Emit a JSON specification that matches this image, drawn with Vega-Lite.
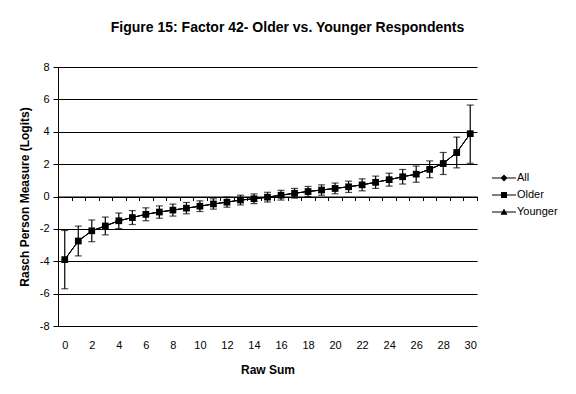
{
  "$schema": "https://vega.github.io/schema/vega-lite/v6.json",
  "autosize": "none",
  "width": 419,
  "height": 259,
  "padding": {"left": 58, "top": 67, "right": 99, "bottom": 68},
  "background": "white",
  "config": {
    "font": "Liberation Sans",
    "view": {"stroke": null},
    "axis": {"labelFont": "Liberation Sans", "titleFont": "Liberation Sans", "labelColor": "black", "titleColor": "black", "labelFontSize": 11, "titleFontSize": 12, "titleFontWeight": "bold"},
    "legend": {"labelFont": "Liberation Sans", "labelColor": "black", "labelFontSize": 11}
  },
  "title": {"text": "Figure 15: Factor 42- Older vs. Younger Respondents", "fontSize": 14, "fontWeight": "bold", "font": "Liberation Sans", "color": "black", "anchor": "middle", "dx": 20, "offset": 26},
  "datasets": {
    "measures": [
      {"raw": 0, "All": -3.9, "Older": -3.9, "Younger": -3.9, "lo": -5.7, "hi": -2.1},
      {"raw": 1, "All": -2.75, "Older": -2.75, "Younger": -2.75, "lo": -3.67, "hi": -1.83},
      {"raw": 2, "All": -2.12, "Older": -2.12, "Younger": -2.12, "lo": -2.79, "hi": -1.45},
      {"raw": 3, "All": -1.82, "Older": -1.82, "Younger": -1.82, "lo": -2.37, "hi": -1.27},
      {"raw": 4, "All": -1.5, "Older": -1.5, "Younger": -1.5, "lo": -1.98, "hi": -1.02},
      {"raw": 5, "All": -1.3, "Older": -1.3, "Younger": -1.3, "lo": -1.73, "hi": -0.87},
      {"raw": 6, "All": -1.1, "Older": -1.1, "Younger": -1.1, "lo": -1.5, "hi": -0.7},
      {"raw": 7, "All": -0.96, "Older": -0.96, "Younger": -0.96, "lo": -1.34, "hi": -0.58},
      {"raw": 8, "All": -0.84, "Older": -0.84, "Younger": -0.84, "lo": -1.21, "hi": -0.47},
      {"raw": 9, "All": -0.72, "Older": -0.72, "Younger": -0.72, "lo": -1.07, "hi": -0.37},
      {"raw": 10, "All": -0.6, "Older": -0.6, "Younger": -0.6, "lo": -0.93, "hi": -0.27},
      {"raw": 11, "All": -0.46, "Older": -0.46, "Younger": -0.46, "lo": -0.78, "hi": -0.14},
      {"raw": 12, "All": -0.35, "Older": -0.35, "Younger": -0.35, "lo": -0.66, "hi": -0.04},
      {"raw": 13, "All": -0.22, "Older": -0.22, "Younger": -0.22, "lo": -0.52, "hi": 0.08},
      {"raw": 14, "All": -0.14, "Older": -0.14, "Younger": -0.14, "lo": -0.44, "hi": 0.16},
      {"raw": 15, "All": -0.04, "Older": -0.04, "Younger": -0.04, "lo": -0.34, "hi": 0.26},
      {"raw": 16, "All": 0.08, "Older": 0.08, "Younger": 0.08, "lo": -0.22, "hi": 0.38},
      {"raw": 17, "All": 0.2, "Older": 0.2, "Younger": 0.2, "lo": -0.1, "hi": 0.5},
      {"raw": 18, "All": 0.31, "Older": 0.31, "Younger": 0.31, "lo": 0.0, "hi": 0.62},
      {"raw": 19, "All": 0.4, "Older": 0.4, "Younger": 0.4, "lo": 0.08, "hi": 0.72},
      {"raw": 20, "All": 0.5, "Older": 0.5, "Younger": 0.5, "lo": 0.17, "hi": 0.83},
      {"raw": 21, "All": 0.6, "Older": 0.6, "Younger": 0.6, "lo": 0.25, "hi": 0.95},
      {"raw": 22, "All": 0.72, "Older": 0.72, "Younger": 0.72, "lo": 0.35, "hi": 1.09},
      {"raw": 23, "All": 0.88, "Older": 0.88, "Younger": 0.88, "lo": 0.5, "hi": 1.26},
      {"raw": 24, "All": 1.04, "Older": 1.04, "Younger": 1.04, "lo": 0.64, "hi": 1.44},
      {"raw": 25, "All": 1.22, "Older": 1.22, "Younger": 1.22, "lo": 0.77, "hi": 1.67},
      {"raw": 26, "All": 1.38, "Older": 1.38, "Younger": 1.38, "lo": 0.88, "hi": 1.88},
      {"raw": 27, "All": 1.68, "Older": 1.68, "Younger": 1.68, "lo": 1.16, "hi": 2.2},
      {"raw": 28, "All": 2.04, "Older": 2.04, "Younger": 2.04, "lo": 1.36, "hi": 2.72},
      {"raw": 29, "All": 2.72, "Older": 2.72, "Younger": 2.72, "lo": 1.77, "hi": 3.67},
      {"raw": 30, "All": 3.88, "Older": 3.88, "Younger": 3.88, "lo": 2.05, "hi": 5.65}
    ]
  },
  "data": {"name": "measures"},
  "resolve": {"axis": {"x": "independent"}, "scale": {"shape": "independent"}, "legend": {"shape": "independent"}},
  "layer": [
    {
      "mark": {"type": "rule", "color": "black", "strokeWidth": 1.2},
      "encoding": {
        "x": {"field": "raw", "type": "quantitative", "scale": {"domain": [-0.5, 30.5], "nice": false, "zero": false},
          "axis": {"orient": "bottom", "offset": -129.5, "values": [-0.5, 0.5, 1.5, 2.5, 3.5, 4.5, 5.5, 6.5, 7.5, 8.5, 9.5, 10.5, 11.5, 12.5, 13.5, 14.5, 15.5, 16.5, 17.5, 18.5, 19.5, 20.5, 21.5, 22.5, 23.5, 24.5, 25.5, 26.5, 27.5, 28.5, 29.5, 30.5], "labels": false, "ticks": true, "tickSize": 4, "tickColor": "black", "domain": true, "domainColor": "black", "grid": false, "title": null, "zindex": 1}},
        "y": {"field": "lo", "type": "quantitative", "title": "Rasch Person Measure (Logits)", "scale": {"domain": [-8, 8], "nice": false, "zero": false},
          "axis": {"values": [-8, -6, -4, -2, 0, 2, 4, 6, 8], "tickCount": 9, "labelExpr": "'' + datum.value", "grid": true, "gridColor": "black", "gridOpacity": 1, "gridWidth": 1, "domain": true, "domainColor": "black", "ticks": true, "tickColor": "black", "tickSize": 5, "labelPadding": 4, "titlePadding": 8}},
        "y2": {"field": "hi"}
      }
    },
    {
      "mark": {"type": "tick", "orient": "horizontal", "color": "black", "size": 7, "thickness": 1.2},
      "encoding": {
        "x": {"field": "raw", "type": "quantitative", "axis": null},
        "y": {"field": "lo", "type": "quantitative", "title": "Rasch Person Measure (Logits)",
          "axis": {"values": [-8, -6, -4, -2, 0, 2, 4, 6, 8], "tickCount": 9, "labelExpr": "'' + datum.value", "grid": true, "gridColor": "black", "gridOpacity": 1, "gridWidth": 1, "domain": true, "domainColor": "black", "ticks": true, "tickColor": "black", "tickSize": 5, "labelPadding": 4, "titlePadding": 8}}
      }
    },
    {
      "mark": {"type": "tick", "orient": "horizontal", "color": "black", "size": 7, "thickness": 1.2},
      "encoding": {
        "x": {"field": "raw", "type": "quantitative", "axis": null},
        "y": {"field": "hi", "type": "quantitative", "title": "Rasch Person Measure (Logits)",
          "axis": {"values": [-8, -6, -4, -2, 0, 2, 4, 6, 8], "tickCount": 9, "labelExpr": "'' + datum.value", "grid": true, "gridColor": "black", "gridOpacity": 1, "gridWidth": 1, "domain": true, "domainColor": "black", "ticks": true, "tickColor": "black", "tickSize": 5, "labelPadding": 4, "titlePadding": 8}}
      }
    },
    {
      "transform": [{"fold": ["All", "Younger", "Older"], "as": ["series", "value"]}],
      "mark": {"type": "line", "color": "black", "strokeWidth": 1},
      "encoding": {
        "x": {"field": "raw", "type": "quantitative", "title": "Raw Sum",
          "axis": {"orient": "bottom", "values": [0, 2, 4, 6, 8, 10, 12, 14, 16, 18, 20, 22, 24, 26, 28, 30], "ticks": false, "domain": false, "grid": false, "labelPadding": 13, "titlePadding": 14, "labelFlush": false}},
        "y": {"field": "value", "type": "quantitative", "title": "Rasch Person Measure (Logits)",
          "axis": {"values": [-8, -6, -4, -2, 0, 2, 4, 6, 8], "tickCount": 9, "labelExpr": "'' + datum.value", "grid": true, "gridColor": "black", "gridOpacity": 1, "gridWidth": 1, "domain": true, "domainColor": "black", "ticks": true, "tickColor": "black", "tickSize": 5, "labelPadding": 4, "titlePadding": 8}},
        "detail": {"field": "series"}
      }
    },
    {
      "transform": [{"fold": ["All", "Younger", "Older"], "as": ["series", "value"]}],
      "mark": {"type": "point", "filled": true, "color": "black", "opacity": 1, "size": 45},
      "encoding": {
        "x": {"field": "raw", "type": "quantitative", "axis": null},
        "y": {"field": "value", "type": "quantitative", "title": "Rasch Person Measure (Logits)",
          "axis": {"values": [-8, -6, -4, -2, 0, 2, 4, 6, 8], "tickCount": 9, "labelExpr": "'' + datum.value", "grid": true, "gridColor": "black", "gridOpacity": 1, "gridWidth": 1, "domain": true, "domainColor": "black", "ticks": true, "tickColor": "black", "tickSize": 5, "labelPadding": 4, "titlePadding": 8}},
        "shape": {"field": "series", "type": "nominal", "scale": {"domain": ["All", "Older", "Younger"], "range": ["diamond", "square", "triangle-up"]}, "legend": null}
      }
    },
    {
      "transform": [{"fold": ["All", "Older", "Younger"], "as": ["series", "value"]}],
      "mark": {"type": "point", "filled": true, "color": "black", "opacity": 0},
      "encoding": {
        "x": {"field": "raw", "type": "quantitative", "axis": null},
        "y": {"field": "value", "type": "quantitative", "title": "Rasch Person Measure (Logits)",
          "axis": {"values": [-8, -6, -4, -2, 0, 2, 4, 6, 8], "tickCount": 9, "labelExpr": "'' + datum.value", "grid": true, "gridColor": "black", "gridOpacity": 1, "gridWidth": 1, "domain": true, "domainColor": "black", "ticks": true, "tickColor": "black", "tickSize": 5, "labelPadding": 4, "titlePadding": 8}},
        "shape": {"field": "series", "type": "nominal",
          "scale": {"domain": ["All", "Older", "Younger"], "range": ["M-1.714,-0.07H1.714V0.07H-1.714ZM0,-0.5L0.5,0L0,0.5L-0.5,0Z", "M-1.714,-0.07H1.714V0.07H-1.714ZM-0.43,-0.43H0.43V0.43H-0.43Z", "M-1.714,-0.07H1.714V0.07H-1.714ZM0,-0.5L0.5,0.4H-0.5Z"]},
          "legend": {"title": null, "orient": "none", "legendX": 439, "legendY": 104, "symbolSize": 196, "rowPadding": 5, "labelOffset": 6, "padding": 0, "symbolOpacity": 1, "symbolFillColor": "black", "symbolStrokeColor": "black", "symbolStrokeWidth": 0,
            "encode": {"symbols": {"update": {"opacity": {"value": 1}, "fill": {"value": "black"}}}}}}
      }
    }
  ]
}
